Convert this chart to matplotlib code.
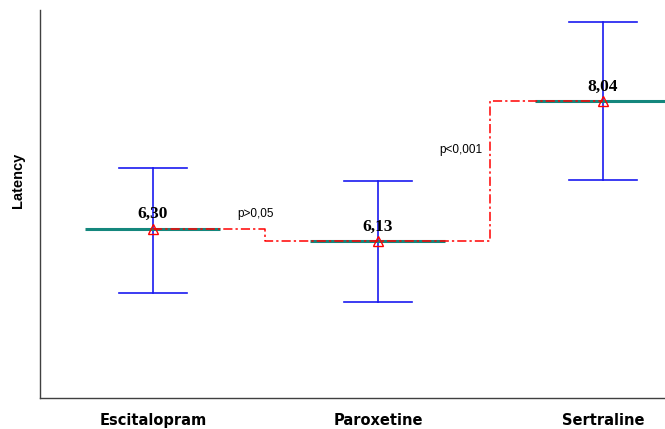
import matplotlib.pyplot as plt

# Mean latency per drug with error bar limits
drugs = ["Escitalopram", "Paroxetine", "Sertraline"]
means = [6.30, 6.13, 8.04]
err_low = [5.43, 5.30, 6.96]
err_high = [7.13, 6.95, 9.12]
mean_labels = ["6,30", "6,13", "8,04"]
p_labels = ["p>0,05", "p<0,001"]

fig = plt.figure(figsize=(6.65, 4.29), dpi=100)
ax = fig.add_axes([40 / 665, 31 / 429, 625 / 665, 388 / 429])

x = list(range(len(drugs)))

# error bars with caps
for xi, lo, hi in zip(x, err_low, err_high):
    ax.plot([xi, xi], [lo, hi], color="#1a1af0", lw=1.2, zorder=2)
    ax.plot([xi - 0.15, xi + 0.15], [lo, lo], color="#1a1af0", lw=1.2, zorder=2)
    ax.plot([xi - 0.15, xi + 0.15], [hi, hi], color="#1a1af0", lw=1.2, zorder=2)

# mean lines
for xi, m in zip(x, means):
    ax.plot([xi - 0.3, xi + 0.3], [m, m], color="#14877d", lw=2.2, zorder=3,
            solid_capstyle="butt")

# step line linking means
ax.plot(x, means, drawstyle="steps-mid", color="red", lw=1.1,
        dashes=[6, 2, 1.5, 2], zorder=4)
ax.plot(x, means, linestyle="none", marker="^", markersize=7,
        markerfacecolor="none", markeredgecolor="red", markeredgewidth=1.0,
        zorder=5)

for xi, m, lab in zip(x, means, mean_labels):
    ax.text(xi, m + 0.09, lab, ha="center", va="bottom", fontsize=12.5,
            fontweight="bold", family="Liberation Serif")

ax.text(0.375, 6.42, p_labels[0], ha="left", va="bottom", fontsize=8.5,
        family="Liberation Sans")
ax.text(1.465, 7.37, p_labels[1], ha="right", va="center", fontsize=8.5,
        family="Liberation Sans")

ax.set_xlim(-0.502, 2.276)
ax.set_ylim(4.0, 9.28)
ax.set_xticks([])
ax.set_yticks([])
for s in ["top", "right"]:
    ax.spines[s].set_visible(False)
for s in ["left", "bottom"]:
    ax.spines[s].set_color("#404040")
    ax.spines[s].set_linewidth(1.0)

for xi, name in zip(x, drugs):
    ax.text(xi, 4.0 - 0.3, name, ha="center", va="center", fontsize=10.5,
            fontweight="bold", family="Liberation Sans Narrow",
            transform=ax.transData, clip_on=False)

fig.text(18 / 665, 1 - 180 / 429, "Latency", rotation=90, ha="center",
         va="center", fontsize=10.5, fontweight="bold", family="Liberation Sans")

fig.savefig("out.png", dpi=100)
